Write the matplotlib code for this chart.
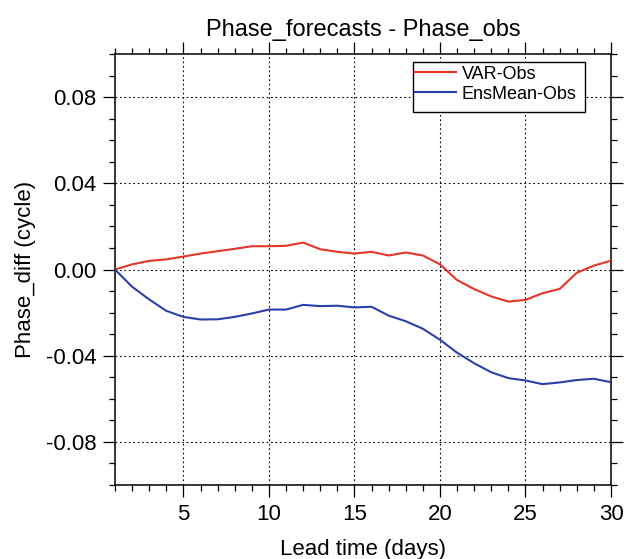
import matplotlib
matplotlib.use("Agg")
import matplotlib.pyplot as plt
import numpy as np
from matplotlib.patches import Rectangle
from matplotlib.ticker import MultipleLocator

plt.rcParams["font.family"] = ["Liberation Sans", "DejaVu Sans"]

# Data
lead_days = list(range(1, 31))
var_obs = [0.0, 0.0024, 0.0040, 0.0047, 0.0060, 0.0074, 0.0085, 0.0096, 0.0108, 0.0108,
           0.0110, 0.0125, 0.0094, 0.0082, 0.0074, 0.0082, 0.0065, 0.0079, 0.0065, 0.0024,
           -0.0049, -0.0091, -0.0125, -0.0149, -0.0141, -0.0110, -0.0090, -0.0015, 0.0018, 0.0041]
ensmean_obs = [0.0, -0.0080, -0.0139, -0.0192, -0.0220, -0.0232, -0.0231, -0.0220, -0.0204, -0.0186,
               -0.0186, -0.0164, -0.0170, -0.0168, -0.0176, -0.0173, -0.0214, -0.0240, -0.0275, -0.0326,
               -0.0386, -0.0435, -0.0477, -0.0504, -0.0515, -0.0532, -0.0524, -0.0513, -0.0507, -0.0523]
series_names = ["VAR-Obs", "EnsMean-Obs"]
series_colors = ["#e53528", "#2c3fa8"]

W, H = 631, 559
fig = plt.figure(figsize=(W / 100, H / 100), dpi=100)
ax = fig.add_axes([115 / W, 1 - 485 / H, 496 / W, 431 / H])

handles = []
for vals, name, col in zip([var_obs, ensmean_obs], series_names, series_colors):
    (ln,) = ax.plot(lead_days, vals, color=col, lw=1.5, label=name, zorder=3)
    handles.append(ln)

ax.set_xlim(1, 30)
ax.set_ylim(-0.1, 0.1)
ax.xaxis.set_major_locator(MultipleLocator(5))
ax.xaxis.set_minor_locator(MultipleLocator(1))
ax.set_yticks([-0.08, -0.04, 0.0, 0.04, 0.08])
ax.set_yticklabels(["-0.08", "-0.04", "0.00", "0.04", "0.08"])
ax.yaxis.set_minor_locator(MultipleLocator(0.01))

ax.tick_params(which="both", direction="out", top=True, right=True,
               labeltop=False, labelright=False, width=0.9, color="black",
               labelsize=16)
ax.tick_params(which="major", length=8.5, pad=5)
ax.tick_params(which="minor", length=4.3)
for sp in ax.spines.values():
    sp.set_linewidth(1.1)

ax.grid(True, which="major", color="black", linestyle=(0, (1.5, 2.5)), linewidth=0.8)

ax.set_xlabel("Lead time (days)", fontsize=16, labelpad=10)
ax.set_ylabel("Phase_diff (cycle)", fontsize=16)
ax.yaxis.set_label_coords(-0.16, 0.5)

fig.text((115 + 611) / 2 / W, 1 - 36 / H, "Phase_forecasts - Phase_obs",
         ha="center", va="baseline", fontsize=17)

# legend with a fixed box like the reference
box = Rectangle((413 / W, 1 - 112 / H), 172 / W, 50 / H, transform=fig.transFigure,
                facecolor="white", edgecolor="black", linewidth=1.0, zorder=5)
fig.patches.append(box)
leg = fig.legend(handles=handles, loc="upper left", bbox_to_anchor=(413 / W, 1 - 64 / H),
                 frameon=False, fontsize=13, handlelength=2.3, handletextpad=0.3,
                 borderpad=0.1, borderaxespad=0, labelspacing=0.15)
leg.set_zorder(6)

fig.savefig("out.png", dpi=100)
